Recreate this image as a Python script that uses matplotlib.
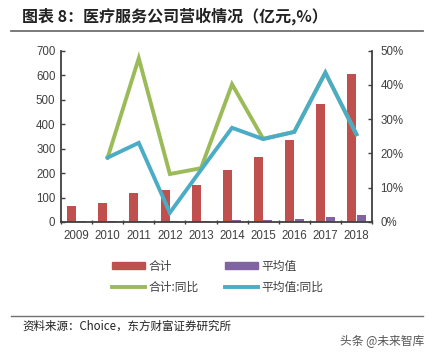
import matplotlib
matplotlib.use("Agg")
import matplotlib.pyplot as plt
import numpy as np
from matplotlib.patches import Patch
from matplotlib.lines import Line2D

plt.rcParams['font.family'] = ['Liberation Sans', 'Noto Sans CJK SC', 'DejaVu Sans']

years = ['2009', '2010', '2011', '2012', '2013', '2014', '2015', '2016', '2017', '2018']
total = [66, 78, 117, 131, 153, 214, 266, 336, 481, 605]
average = [3, 3.5, 4, 4.5, 5, 7, 9, 13, 20, 27]
total_yoy = [None, 18.8, 47.8, 14.0, 15.7, 40.2, 24.3, 26.3, 43.6, 25.6]
avg_yoy = [None, 18.8, 23.1, 2.7, 15.2, 27.5, 24.2, 26.3, 43.6, 25.6]

RED = '#C0504D'
PURPLE = '#8064A2'
GREEN = '#9BBB59'
BLUE = '#4BACC6'
AX = '#404040'

fig = plt.figure(figsize=(4.35, 3.54), dpi=100)
ax = fig.add_axes([61/435, 1-222/354, (372-61)/435, (222-50.7)/354])
ax2 = ax.twinx()

x = np.arange(len(years))
w = 0.29
ax.bar(x - w/2 - 0.01, total, width=w, color=RED, zorder=2)
ax.bar(x + w/2 + 0.01, average, width=w, color=PURPLE, zorder=2)
ax.set_xlim(-0.5, len(years) - 0.5)
ax.set_ylim(0, 700)
ax.set_yticks(range(0, 701, 100))
ax.set_xticks(x)
ax.set_xticklabels(years)
ax.set_xticks(np.arange(-0.5, len(years), 1), minor=True)
ax.tick_params(axis='x', which='major', length=0, pad=6, labelsize=8.3, labelcolor='#404040')
ax.tick_params(axis='x', which='minor', length=3, direction='inout', color=AX, width=1)
ax.tick_params(axis='y', direction='in', length=3, color=AX, width=1, labelsize=8.3, labelcolor='#404040', pad=4)

yi = [i for i, v in enumerate(total_yoy) if v is not None]
ax2.plot(yi, [total_yoy[i] for i in yi], color=GREEN, lw=2.8, solid_joinstyle='miter', zorder=3)
ai = [i for i, v in enumerate(avg_yoy) if v is not None]
ax2.plot(ai, [avg_yoy[i] for i in ai], color=BLUE, lw=2.8, solid_joinstyle='miter', zorder=4)
ax2.set_ylim(0, 50)
ax2.set_yticks(range(0, 51, 10))
ax2.set_yticklabels([f'{v}%' for v in range(0, 51, 10)])
ax2.tick_params(axis='y', direction='in', length=3, color=AX, width=1, labelsize=8.3, labelcolor='#404040', pad=6)

for a in (ax, ax2):
    a.spines['top'].set_visible(False)
    for s in ('left', 'right', 'bottom'):
        a.spines[s].set_color(AX)
        a.spines[s].set_linewidth(1.3)
ax.spines['right'].set_visible(False)
ax2.spines['left'].set_visible(False)
ax2.spines['bottom'].set_visible(False)

handles = [Patch(color=RED), Line2D([], [], color=GREEN, lw=2.8),
           Patch(color=PURPLE), Line2D([], [], color=BLUE, lw=2.8)]
labels = ['合计', '合计:同比', '平均值', '平均值:同比']
fig.legend(handles, labels, ncol=2, loc='center', bbox_to_anchor=(0.5, 1-277/354),
           frameon=False, prop={'family': ['Noto Sans CJK SC'], 'size': 8.5},
           handlelength=2.8, handleheight=0.5, columnspacing=2.2, labelspacing=0.7,
           handletextpad=0.3, labelcolor='#404040')

fig.text(22/435, 1-16/354, '图表 8：医疗服务公司营收情况（亿元,%）', fontsize=11.5,
         fontweight='bold', family=['Noto Sans CJK SC'], va='center', ha='left', color='#222222')
fig.add_artist(Line2D([11/435, 423/435], [1-31/354, 1-31/354], color='#707070', lw=1.3))
fig.add_artist(Line2D([11/435, 423/435], [1-316/354, 1-316/354], color='#707070', lw=1.0))
fig.text(22/435, 1-326/354, '资料来源：Choice，东方财富证券研究所', fontsize=8.3,
         family=['Noto Sans CJK SC'], va='center', ha='left', color='#222222')
fig.text(424/435, 1-342/354, '头条 @未来智库', fontsize=8.5,
         family=['Noto Sans CJK SC'], va='center', ha='right', color='#555555')

fig.savefig('out.png', dpi=100)
